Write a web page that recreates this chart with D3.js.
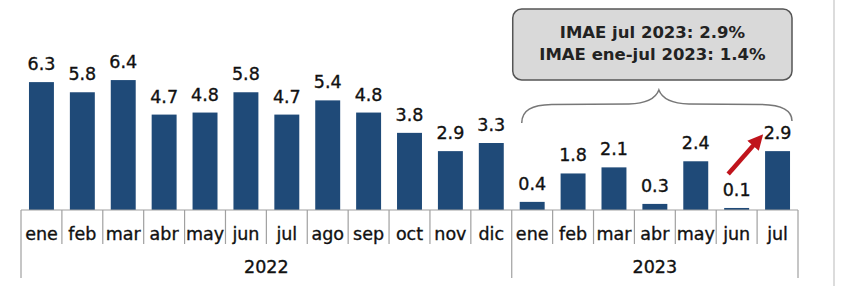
<!DOCTYPE html>
<html><head><meta charset="utf-8">
<script src="https://cdn.jsdelivr.net/npm/d3@7"></script>
<style>
html,body{margin:0;padding:0;background:#fff;}
text{font-family:"DejaVu Sans",sans-serif;}
</style></head>
<body>
<svg id="c" width="848" height="286"></svg>
<script>
const months2022 = ["ene","feb","mar","abr","may","jun","jul","ago","sep","oct","nov","dic"];
const values2022 = [6.3,5.8,6.4,4.7,4.8,5.8,4.7,5.4,4.8,3.8,2.9,3.3];
const months2023 = ["ene","feb","mar","abr","may","jun","jul"];
const values2023 = [0.4,1.8,2.1,0.3,2.4,0.1,2.9];
const years = ["2022","2023"];
const calloutLines = ["IMAE jul 2023: 2.9%","IMAE ene-jul 2023: 1.4%"];

const data = [
  ...months2022.map((m,i)=>({key:"2022-"+m, month:m, year:"2022", v:values2022[i]})),
  ...months2023.map((m,i)=>({key:"2023-"+m, month:m, year:"2023", v:values2023[i]}))
];

const svg = d3.select("#c");
const baseY = 210;
const x = d3.scaleBand().domain(data.map(d=>d.key)).range([21,798]).padding(0);
const xb = d3.scaleBand().domain(data.map(d=>d.key)).range([21,798]).paddingInner(0.39).paddingOuter(0.195);
const y = d3.scaleLinear().domain([0,10]).range([baseY, baseY-203]);

// right light border
svg.append("line").attr("x1",834).attr("x2",834).attr("y1",0).attr("y2",286)
  .attr("stroke","#dcdcdc").attr("stroke-width",2);

// bars
svg.append("g").selectAll("rect").data(data).join("rect")
  .attr("x",d=>xb(d.key)).attr("width",xb.bandwidth())
  .attr("y",d=>y(d.v)).attr("height",d=>baseY-y(d.v))
  .attr("fill","#1f4a78");

// value labels
svg.append("g").selectAll("text").data(data).join("text")
  .attr("x",d=>xb(d.key)+xb.bandwidth()/2).attr("y",d=>y(d.v)-12)
  .attr("text-anchor","middle").attr("font-size",17.5)
  .attr("fill","#111").attr("stroke","#111").attr("stroke-width",0.35)
  .text(d=>d.v.toFixed(1));

// axis
const ax = svg.append("g");
ax.append("line").attr("x1",21).attr("x2",798).attr("y1",baseY).attr("y2",baseY)
  .attr("stroke","#a0a0a0").attr("stroke-width",1.2);
const bounds = data.map(d=>x(d.key)).concat([x.range()[1]]);
ax.selectAll("line.sep").data(bounds).join("line").attr("class","sep")
  .attr("x1",d=>d).attr("x2",d=>d).attr("y1",baseY)
  .attr("y2",(d,i)=> (i===0 || i===12 || i===bounds.length-1) ? 278 : 244)
  .attr("stroke","#a0a0a0").attr("stroke-width",1.2);
ax.selectAll("text.m").data(data).join("text").attr("class","m")
  .attr("x",d=>x(d.key)+x.bandwidth()/2).attr("y",240)
  .attr("text-anchor","middle").attr("font-size",17.5)
  .attr("fill","#111").attr("stroke","#111").attr("stroke-width",0.35)
  .text(d=>d.month);
years.forEach(yr=>{
  const ks = data.filter(d=>d.year===yr);
  const x0 = x(ks[0].key), x1 = x(ks[ks.length-1].key)+x.bandwidth();
  ax.append("text").attr("x",(x0+x1)/2).attr("y",273).attr("text-anchor","middle")
    .attr("font-size",17.5).attr("fill","#111").attr("stroke","#111").attr("stroke-width",0.35).text(yr);
});

// callout box
const k23 = data.filter(d=>d.year==="2023");
const bx0 = x(k23[0].key)+1, bx1 = x(k23[k23.length-1].key)+x.bandwidth()-6;
const bcx = (bx0+bx1)/2;
svg.append("rect").attr("x",bx0).attr("y",9).attr("width",bx1-bx0).attr("height",71)
  .attr("rx",9).attr("fill","#d9d9d9").attr("stroke","#555").attr("stroke-width",1.5);
calloutLines.forEach((t,i)=>{
  svg.append("text").attr("x",bcx).attr("y",38+i*21.5).attr("text-anchor","middle")
    .attr("font-size",16.5).attr("font-weight",700).attr("fill","#222").text(t);
});

// brace
const L = x(k23[0].key)+10, R = x(k23[k23.length-1].key)+x.bandwidth()-6, M = (L+R)/2+2;
const p = d3.path();
p.moveTo(L,123);
p.bezierCurveTo(L,110, L+10,105, L+30,104.5);
p.lineTo(M-30,104);
p.bezierCurveTo(M-12,103.5, M-3,98, M,90);
p.bezierCurveTo(M+3,98, M+12,103.5, M+30,104);
p.lineTo(R-30,104.5);
p.bezierCurveTo(R-10,105, R,110, R,121);
svg.append("path").attr("d",p.toString()).attr("fill","none")
  .attr("stroke","#777").attr("stroke-width",1.5);

// red arrow between jun and jul
const ax0 = x(k23[5].key)+12, ax1 = x(k23[6].key)+4;
svg.append("defs").append("marker").attr("id","ah").attr("viewBox","0 0 10 10")
  .attr("refX",5).attr("refY",5).attr("markerWidth",3.4).attr("markerHeight",3.4)
  .attr("orient","auto").append("path").attr("d","M0,0 L10,5 L0,10 z").attr("fill","#c0141c");
svg.append("line").attr("x1",ax0).attr("y1",174).attr("x2",ax1-3).attr("y2",140)
  .attr("stroke","#c0141c").attr("stroke-width",4.5).attr("marker-end","url(#ah)");
</script>
</body></html>
